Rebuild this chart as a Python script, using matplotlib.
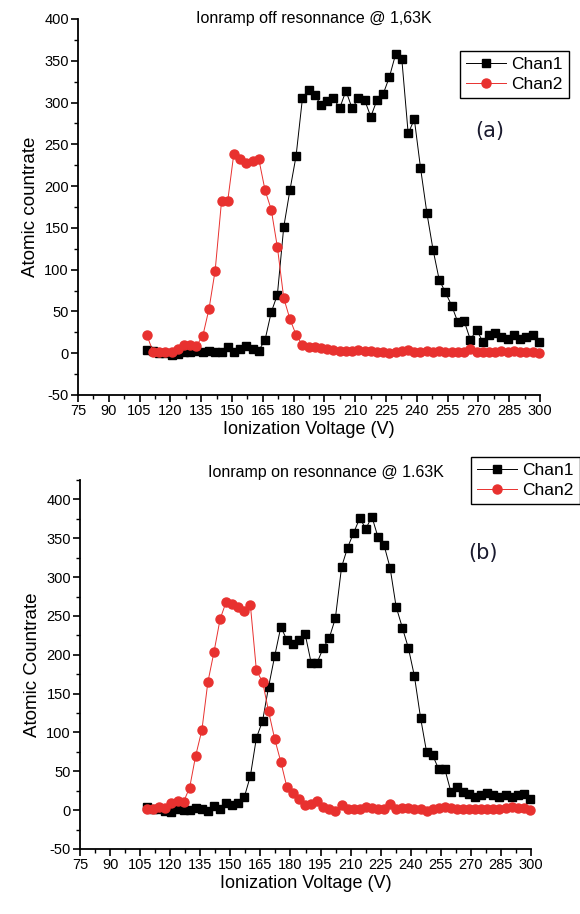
import matplotlib
matplotlib.use("Agg")
import matplotlib.pyplot as plt
from matplotlib.ticker import MultipleLocator, FixedLocator

plt.rcParams['font.family'] = ['Liberation Sans', 'DejaVu Sans']
plt.rcParams['axes.unicode_minus'] = False

# ---------------- data ----------------
volts = [108.5, 111.5, 114.6, 117.6, 120.6, 123.7, 126.7, 129.7, 132.7, 135.8,
         138.8, 141.8, 144.9, 147.9, 150.9, 153.9, 157.0, 160.0, 163.0, 166.1,
         169.1, 172.1, 175.2, 178.2, 181.2, 184.3, 187.3, 190.3, 193.3, 196.4,
         199.4, 202.4, 205.5, 208.5, 211.5, 214.6, 217.6, 220.6, 223.6, 226.7,
         229.7, 232.7, 235.8, 238.8, 241.8, 244.9, 247.9, 250.9, 253.9, 257.0,
         260.0, 263.0, 266.1, 269.1, 272.1, 275.2, 278.2, 281.2, 284.2, 287.3,
         290.3, 293.3, 296.4, 299.4]

# (a) off resonance
off_chan1 = [4, 3, 0, 0, -2, -1, 1, 2, 3, 2,
             3, 1, 2, 8, 1, 5, 9, 5, 3, 16,
             49, 70, 151, 195, 236, 305, 315, 309, 297, 302,
             306, 293, 314, 293, 305, 303, 283, 303, 310, 331,
             358, 352, 263, 280, 222, 168, 124, 88, 73, 57,
             37, 39, 16, 28, 14, 22, 24, 20, 17, 22,
             17, 20, 22, 14]
off_chan2 = [22, 2, 2, 1, 1, 5, 10, 10, 9, 21,
             53, 99, 182, 182, 239, 232, 228, 230, 233, 195,
             172, 127, 66, 41, 22, 10, 7, 7, 6, 5,
             4, 3, 3, 3, 4, 3, 3, 2, 2, 0,
             1, 3, 4, 1, 2, 3, 2, 3, 2, 1,
             2, 1, 5, 2, 1, 2, 1, 3, 2, 3,
             1, 2, 2, 0]

# (b) on resonance
on_chan1 = [4, 2, 2, -1, -2, 1, 0, 0, 3, 1,
            -1, 5, 2, 9, 6, 9, 17, 44, 93, 115,
            159, 198, 236, 219, 214, 219, 227, 190, 190, 209,
            222, 247, 313, 338, 357, 376, 362, 378, 352, 341,
            312, 262, 235, 209, 173, 119, 75, 71, 53, 53,
            24, 30, 24, 21, 17, 20, 22, 20, 17, 19,
            17, 20, 21, 15]
on_chan2 = [2, 1, 4, 3, 9, 12, 11, 29, 70, 103,
            165, 203, 246, 268, 265, 261, 256, 264, 180, 165,
            127, 92, 62, 30, 22, 14, 6, 8, 12, 4,
            1, -1, 6, 1, 1, 1, 4, 3, 2, 2,
            8, 2, 3, 3, 2, 2, -1, 1, 3, 4,
            3, 1, 2, 2, 2, 2, 2, 1, 2, 3,
            4, 3, 3, 0]

x_ticks = [75, 90, 105, 120, 135, 150, 165, 180, 195, 210, 225, 240, 255, 270, 285, 300]
y_ticks = [-50, 0, 50, 100, 150, 200, 250, 300, 350, 400]

titles = ["Ionramp off resonnance @ 1,63K", "Ionramp on resonnance @ 1.63K"]
ylabels = ["Atomic countrate", "Atomic Countrate"]
panel_tags = ["(a)", "(b)"]

W, H = 580, 914
fig = plt.figure(figsize=(W / 100, H / 100), dpi=100)

def px_rect(l, t, r, b):
    return [l / W, 1 - b / H, (r - l) / W, (b - t) / H]

ax1 = fig.add_axes(px_rect(78, 19, 540, 395))
ax2 = fig.add_axes(px_rect(80, 480, 531, 849))

RED = '#e8312f'

def style(ax, ytop):
    ax.set_xlim(75, 300)
    ax.set_ylim(-50, ytop)
    ax.spines['top'].set_visible(False)
    ax.spines['right'].set_visible(False)
    for s in ('left', 'bottom'):
        ax.spines[s].set_linewidth(1.3)
    ax.xaxis.set_major_locator(FixedLocator(x_ticks))
    ax.xaxis.set_minor_locator(MultipleLocator(7.5))
    ax.yaxis.set_major_locator(FixedLocator(y_ticks))
    ax.yaxis.set_minor_locator(MultipleLocator(25))
    ax.tick_params(which='major', direction='out', length=5, width=1.2, labelsize=10.5, pad=1.5)
    ax.tick_params(which='minor', direction='out', length=3, width=1.0)
    ax.set_xlabel("Ionization Voltage (V)", fontsize=13, labelpad=2)

def draw(ax, c1, c2):
    ax.plot(volts, c1, '-', color='black', lw=0.7, marker='s', ms=5.5,
            mfc='black', mec='black', label='Chan1', clip_on=False)
    ax.plot(volts, c2, '-', color=RED, lw=0.7, marker='o', ms=6.5,
            mfc=RED, mec=RED, label='Chan2', clip_on=False)

for ax, c1, c2, ytop in ((ax1, off_chan1, off_chan2, 400), (ax2, on_chan1, on_chan2, 425)):
    style(ax, ytop)
    draw(ax, c1, c2)

ax1.set_ylabel(ylabels[0], fontsize=13.5, labelpad=4)
ax2.set_ylabel(ylabels[1], fontsize=13.5, labelpad=4)

fig.text(314 / W, 1 - 18 / H, titles[0], ha='center', va='center', fontsize=11.5)
fig.text(326 / W, 1 - 472 / H, titles[1], ha='center', va='center', fontsize=11.5)

leg_kw = dict(loc='upper left', fontsize=12.5, frameon=True, fancybox=False,
              edgecolor='black', framealpha=1, handlelength=2.3, borderpad=0.35,
              labelspacing=0.25, handletextpad=0.3, borderaxespad=0)
l1 = ax1.legend(bbox_to_anchor=(460 / W, 1 - 51 / H), bbox_transform=fig.transFigure, **leg_kw)
l2 = ax2.legend(bbox_to_anchor=(471 / W, 1 - 457 / H), bbox_transform=fig.transFigure, **leg_kw)
for lg in (l1, l2):
    lg.get_frame().set_linewidth(1.0)

fig.text(490 / W, 1 - 131 / H, panel_tags[0], ha='center', va='center', fontsize=15,
         family=['DejaVu Sans'], color='#1a1a2e')
fig.text(483 / W, 1 - 553 / H, panel_tags[1], ha='center', va='center', fontsize=15,
         family=['DejaVu Sans'], color='#1a1a2e')

fig.savefig("out.png", dpi=100)
